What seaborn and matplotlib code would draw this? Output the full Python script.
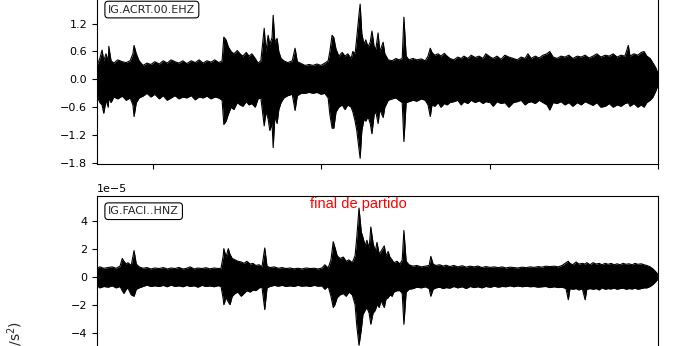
import numpy as np
import pandas as pd
import matplotlib
matplotlib.use("Agg")
import matplotlib.pyplot as plt
import seaborn as sns

# ---------------- data (time in minutes, envelope of the traces) ----------------
t_acrt = [0.0, 0.5, 0.9, 1.2, 1.6, 2.0, 2.1, 2.5, 3.0, 3.7, 4.5, 5.2, 5.9, 6.4, 6.6, 7.0, 7.5, 8.2, 8.9, 9.6,
          10.3, 11.1, 11.8, 12.5, 13.2, 13.9, 14.6, 15.3, 16.0, 16.8, 17.5, 18.2, 18.9, 19.6, 20.3, 21.0, 21.7, 22.3, 22.6, 23.0,
          23.4, 23.9, 24.4, 25.0, 25.5, 26.0, 26.6, 27.1, 27.6, 28.2, 28.7, 29.2, 29.8, 30.1, 30.5, 30.8, 31.2, 31.4, 31.7, 32.1,
          32.4, 32.8, 33.3, 34.0, 34.8, 35.3, 35.7, 36.4, 37.1, 37.8, 38.5, 39.2, 39.9, 40.6, 41.2, 41.5, 41.9, 42.2, 42.6, 43.1,
          43.7, 44.2, 44.7, 45.3, 45.6, 46.0, 46.3, 46.7, 46.9, 47.2, 47.6, 47.9, 48.3, 48.7, 49.0, 49.4, 49.7, 50.1, 50.4, 51.0,
          51.3, 51.9, 52.6, 53.3, 53.8, 54.4, 54.7, 55.1, 55.6, 56.3, 57.0, 57.8, 58.5, 59.0, 59.4, 59.7, 60.2, 60.8, 61.3, 61.9,
          62.4, 62.9, 63.6, 64.3, 64.9, 65.4, 66.1, 66.7, 67.4, 68.1, 68.8, 69.3, 70.1, 70.6, 71.3, 72.0, 72.7, 73.4, 74.2, 74.9,
          75.6, 76.3, 76.8, 77.4, 78.1, 78.8, 79.5, 80.2, 80.7, 81.3, 82.0, 82.7, 83.4, 84.1, 84.8, 85.6, 86.3, 87.0, 87.7, 88.4,
          89.1, 89.8, 90.6, 91.3, 92.0, 92.7, 93.4, 94.1, 94.7, 95.0, 95.7, 96.4, 97.0, 97.5, 98.0, 98.6, 99.1, 99.6, 100.0]
up_acrt = [0.30, 0.45, 0.63, 0.40, 0.55, 0.38, 0.71, 0.40, 0.35, 0.42, 0.38, 0.36, 0.40, 0.55, 0.73, 0.55, 0.40, 0.30, 0.35, 0.32,
           0.38, 0.33, 0.40, 0.35, 0.42, 0.38, 0.35, 0.40, 0.34, 0.40, 0.36, 0.42, 0.35, 0.40, 0.37, 0.42, 0.36, 0.40, 0.91, 0.85,
           0.70, 0.60, 0.55, 0.62, 0.55, 0.50, 0.58, 0.50, 0.55, 0.45, 0.35, 0.40, 1.10, 0.60, 0.95, 0.75, 0.90, 1.38, 0.80, 0.88,
           0.60, 0.45, 0.40, 0.36, 0.40, 0.67, 0.38, 0.34, 0.30, 0.32, 0.30, 0.33, 0.30, 0.35, 0.40, 0.60, 0.95, 0.90, 0.65, 0.50,
           0.58, 0.50, 0.55, 0.45, 0.60, 0.55, 0.90, 1.40, 1.62, 0.98, 0.75, 0.85, 0.70, 0.80, 1.04, 0.70, 0.65, 1.00, 0.60, 0.80,
           0.55, 0.42, 0.40, 0.45, 0.42, 0.45, 1.34, 0.50, 0.42, 0.45, 0.42, 0.44, 0.40, 0.50, 0.67, 0.58, 0.52, 0.55, 0.50, 0.56,
           0.50, 0.45, 0.42, 0.48, 0.45, 0.50, 0.45, 0.52, 0.47, 0.50, 0.45, 0.55, 0.48, 0.45, 0.50, 0.43, 0.52, 0.48, 0.45, 0.42,
           0.48, 0.45, 0.55, 0.45, 0.50, 0.46, 0.52, 0.55, 0.60, 0.48, 0.45, 0.50, 0.48, 0.52, 0.45, 0.50, 0.48, 0.52, 0.46, 0.50,
           0.55, 0.48, 0.52, 0.50, 0.55, 0.48, 0.52, 0.50, 0.73, 0.50, 0.55, 0.52, 0.58, 0.60, 0.50, 0.45, 0.35, 0.25, 0.12]
lo_acrt = [-0.35, -0.50, -0.55, -0.73, -0.45, -0.60, -0.40, -0.50, -0.38, -0.42, -0.36, -0.45, -0.40, -0.55, -0.80, -0.50, -0.40, -0.36, -0.30, -0.38,
           -0.32, -0.42, -0.35, -0.45, -0.40, -0.35, -0.42, -0.38, -0.40, -0.35, -0.44, -0.38, -0.40, -0.36, -0.42, -0.38, -0.40, -0.45, -0.97, -0.90,
           -0.75, -0.60, -0.65, -0.50, -0.55, -0.58, -0.48, -0.55, -0.52, -0.60, -0.42, -0.40, -1.00, -0.70, -0.85, -1.10, -0.95, -1.47, -0.80, -0.95,
           -0.65, -0.50, -0.40, -0.35, -0.32, -0.67, -0.35, -0.30, -0.30, -0.28, -0.30, -0.28, -0.32, -0.30, -0.40, -0.75, -1.05, -1.05, -0.70, -0.60,
           -0.55, -0.65, -0.55, -0.60, -0.70, -0.90, -1.10, -1.50, -1.70, -1.10, -0.85, -0.90, -0.80, -0.95, -1.17, -0.75, -0.70, -0.95, -0.65, -0.82,
           -0.60, -0.45, -0.42, -0.40, -0.45, -0.50, -1.34, -0.50, -0.48, -0.45, -0.47, -0.42, -0.45, -0.55, -0.80, -0.55, -0.58, -0.50, -0.60, -0.52,
           -0.55, -0.50, -0.48, -0.45, -0.55, -0.48, -0.52, -0.45, -0.50, -0.46, -0.52, -0.48, -0.50, -0.58, -0.48, -0.52, -0.50, -0.60, -0.50, -0.48,
           -0.45, -0.55, -0.50, -0.48, -0.52, -0.45, -0.50, -0.55, -0.66, -0.50, -0.52, -0.48, -0.55, -0.50, -0.58, -0.50, -0.55, -0.48, -0.52, -0.56,
           -0.50, -0.60, -0.58, -0.52, -0.60, -0.55, -0.58, -0.52, -0.50, -0.58, -0.52, -0.60, -0.55, -0.60, -0.50, -0.45, -0.38, -0.25, -0.12]

t_faci = [0.0, 0.5, 1.2, 2.0, 2.7, 3.4, 4.1, 4.5, 4.8, 5.2, 5.5, 6.1, 6.6, 7.0, 7.5, 8.2, 8.9, 9.6, 10.3, 11.1,
          11.8, 12.5, 13.2, 13.9, 14.6, 15.3, 16.0, 16.6, 17.3, 18.0, 18.7, 19.4, 20.1, 20.9, 21.6, 22.1, 22.5, 22.6, 23.0, 23.4,
          23.7, 24.1, 24.6, 25.1, 25.7, 26.2, 26.7, 27.3, 27.8, 28.3, 28.9, 29.4, 29.9, 30.3, 30.8, 31.6, 32.3, 33.0, 33.7, 34.4,
          35.1, 35.8, 36.5, 37.3, 38.0, 38.7, 39.4, 40.1, 40.6, 41.2, 41.7, 42.1, 42.4, 42.8, 43.3, 43.9, 44.4, 44.9, 45.5, 46.0,
          46.3, 46.7, 47.1, 47.4, 47.8, 48.1, 48.5, 48.8, 49.2, 49.6, 49.9, 50.3, 50.6, 51.2, 51.5, 51.9, 52.2, 52.6, 52.9, 53.5,
          54.0, 54.4, 54.7, 55.1, 55.6, 56.3, 57.0, 57.8, 58.5, 59.2, 59.5, 59.9, 60.4, 61.1, 61.7, 62.2, 62.9, 63.6, 64.3, 65.1,
          65.8, 66.5, 67.2, 67.9, 68.6, 69.3, 70.1, 70.8, 71.5, 72.2, 72.9, 73.6, 74.3, 75.0, 75.8, 76.5, 77.2, 77.9, 78.6, 79.3,
          80.0, 80.7, 81.5, 82.2, 82.9, 83.6, 84.0, 84.3, 84.8, 85.4, 85.9, 86.5, 87.0, 87.3, 87.9, 88.4, 89.0, 89.5, 90.0, 90.6,
          91.1, 91.6, 92.2, 92.7, 93.2, 93.8, 94.3, 94.8, 95.4, 95.9, 96.4, 97.0, 97.5, 98.0, 98.6, 99.1, 99.6, 100.0]
up_faci = [0.60, 0.70, 0.60, 0.65, 0.70, 0.60, 0.75, 1.30, 1.10, 0.90, 1.00, 0.80, 1.86, 0.90, 0.70, 0.60, 0.65, 0.55, 0.62, 0.58,
           0.65, 0.55, 0.62, 0.58, 0.66, 0.55, 0.60, 0.70, 0.55, 0.62, 0.58, 0.64, 0.56, 0.62, 0.58, 0.60, 1.50, 2.00, 1.40, 2.00,
           1.60, 1.30, 1.20, 1.10, 1.05, 0.95, 1.10, 0.90, 0.95, 0.80, 0.85, 0.70, 2.05, 0.75, 0.65, 0.70, 0.60, 0.65, 0.58, 0.62,
           0.56, 0.60, 0.55, 0.62, 0.58, 0.60, 0.55, 0.62, 0.85, 0.62, 1.20, 2.50, 2.10, 1.50, 1.30, 1.40, 1.10, 1.20, 1.00, 1.50,
           2.80, 4.90, 3.20, 2.80, 2.20, 2.60, 2.00, 3.55, 2.40, 1.80, 2.45, 1.60, 1.80, 2.20, 1.50, 1.80, 1.40, 1.20, 1.00, 1.10,
           0.90, 1.20, 3.30, 1.10, 0.85, 0.75, 0.80, 0.70, 0.75, 0.80, 1.45, 0.90, 0.80, 0.85, 0.75, 0.82, 0.72, 0.80, 0.70, 0.78,
           0.68, 0.75, 0.70, 0.76, 0.65, 0.72, 0.66, 0.70, 0.64, 0.70, 0.62, 0.68, 0.65, 0.62, 0.68, 0.64, 0.70, 0.66, 0.72, 0.68,
           0.75, 0.72, 0.75, 0.70, 0.80, 1.00, 1.10, 0.95, 0.85, 1.05, 0.90, 0.95, 0.90, 1.00, 0.85, 1.00, 0.90, 0.95, 0.85, 0.95,
           0.88, 0.95, 0.85, 0.92, 0.85, 0.95, 0.88, 0.92, 0.85, 0.95, 0.88, 0.92, 0.85, 0.80, 0.70, 0.55, 0.35, 0.15]
lo_faci = [-0.65, -0.80, -0.70, -0.75, -0.65, -0.80, -0.70, -1.00, -1.20, -0.90, -0.80, -1.30, -1.40, -0.90, -0.80, -0.70, -0.60, -0.70, -0.65, -0.70,
           -0.62, -0.72, -0.60, -0.70, -0.65, -0.72, -0.62, -0.70, -0.65, -0.75, -0.62, -0.70, -0.66, -0.72, -0.64, -0.70, -1.60, -2.00, -1.50, -1.80,
           -2.00, -1.40, -1.20, -1.10, -1.40, -1.20, -1.00, -1.10, -0.95, -1.00, -0.80, -0.75, -2.35, -0.80, -0.70, -0.62, -0.68, -0.62, -0.70, -0.65,
           -0.70, -0.62, -0.68, -0.65, -0.70, -0.62, -0.68, -0.66, -0.90, -0.68, -1.40, -2.20, -2.00, -1.50, -1.30, -1.20, -1.40, -1.10, -1.30, -2.00,
           -3.50, -4.90, -3.80, -2.70, -2.40, -2.20, -2.60, -3.40, -2.60, -2.40, -2.00, -2.20, -1.70, -2.20, -1.60, -1.50, -1.30, -1.40, -1.10, -1.00,
           -1.00, -1.20, -3.40, -1.10, -0.90, -0.85, -0.75, -0.80, -0.72, -0.85, -1.40, -0.90, -0.80, -0.75, -0.85, -0.78, -0.82, -0.70, -0.80, -0.72,
           -0.85, -0.70, -0.78, -0.72, -0.80, -0.70, -0.76, -0.68, -0.75, -0.70, -0.72, -0.65, -0.72, -0.66, -0.72, -0.68, -0.72, -0.70, -0.75, -0.72,
           -0.70, -0.78, -0.72, -0.78, -0.75, -0.85, -1.65, -0.85, -0.90, -0.85, -0.95, -0.85, -1.65, -0.90, -0.85, -0.90, -0.85, -0.95, -0.80, -0.90,
           -0.85, -0.88, -0.82, -0.90, -0.85, -0.82, -0.90, -0.85, -0.88, -0.82, -0.90, -0.85, -0.80, -0.80, -0.70, -0.55, -0.35, -0.15]
faci_scale = 1e-5

labels = ["IG.ACRT.00.EHZ", "IG.FACI..HNZ"]
xtick_vals = [10, 40, 70, 100]
ytick_top = [-1.8, -1.2, -0.6, 0.0, 0.6, 1.2]
ytick_bot = [-4, -2, 0, 2, 4]
annotation = "final de partido"
annot_t, annot_y = 46.5, 5.2
ylabel = "Aceleración (m/s$^2$)"

# ---------------- style ----------------
sns.set_theme(style="ticks")
plt.rcParams.update({
    "font.family": ["DejaVu Sans"],
    "font.size": 8,
    "xtick.labelsize": 8,
    "ytick.labelsize": 8,
    "axes.edgecolor": "black",
    "axes.linewidth": 0.8,
    "xtick.color": "black",
    "ytick.color": "black",
    "xtick.major.size": 3.5,
    "ytick.major.size": 3.5,
    "xtick.major.width": 0.8,
    "ytick.major.width": 0.8,
})

fig = plt.figure(figsize=(6.91, 3.46), dpi=100)
ax1 = fig.add_axes([0.1404, 0.525, 0.8119, 0.4913])
ax2 = fig.add_axes([0.1404, -0.0578, 0.8119, 0.4913], sharex=ax1)


def draw(ax, t, up, lo, scale):
    df = pd.DataFrame({"t": t, "up": np.array(up) * scale, "lo": np.array(lo) * scale})
    ax.fill_between(df["t"], df["lo"], df["up"], color="black", lw=0)
    sns.lineplot(data=df, x="t", y="up", ax=ax, color="black", lw=0.8, estimator=None, sort=False)
    sns.lineplot(data=df, x="t", y="lo", ax=ax, color="black", lw=0.8, estimator=None, sort=False)
    ax.set_xlabel("")
    ax.set_ylabel("")


draw(ax1, t_acrt, up_acrt, lo_acrt, 1.0)
draw(ax2, t_faci, up_faci, lo_faci, faci_scale)

ax1.set_xlim(0, 100)
ax1.set_xticks(xtick_vals)
ax1.tick_params(labelbottom=False)
ax2.tick_params(labelbottom=False)
ax1.set_ylim(-1.83, 1.83)
ax1.set_yticks(ytick_top)
ax2.set_ylim(-6.38e-5, 5.76e-5)
ax2.set_yticks([v * faci_scale for v in ytick_bot])

for ax, lab in zip([ax1, ax2], labels):
    ax.text(0.02, 0.94, lab, transform=ax.transAxes, ha="left", va="top", fontsize=8,
            bbox=dict(boxstyle="round", fc="white", ec="black", lw=0.8))

ax2.text(annot_t, annot_y * faci_scale, annotation, color="red", fontsize=10.5,
         family=["Liberation Sans", "DejaVu Sans"], ha="center", va="center")

fig.text(15 / 691, 1 - 321 / 346, ylabel, rotation=90, ha="center", va="top", fontsize=10)

fig.savefig("out.png", dpi=100)
